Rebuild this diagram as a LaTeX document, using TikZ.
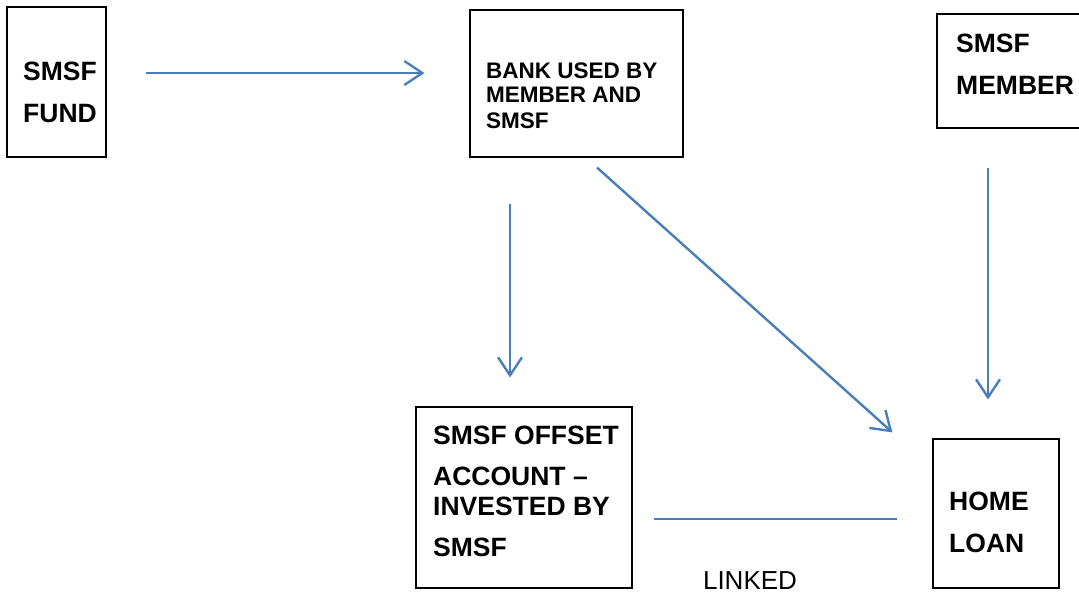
\documentclass[tikz,border=0pt]{standalone}
\usepackage{fontspec}
\setmainfont{Liberation Sans}
\usetikzlibrary{arrows.meta,calc}
\definecolor{wordblue}{RGB}{74,126,187}

\begin{document}
\begin{tikzpicture}[x=1pt,y=-1pt,
    box/.style={draw=black, line width=1.1pt, inner sep=0pt},
    txt/.style={anchor=base west, align=left, inner sep=0pt, font=\fontsize{26.5}{30}\selectfont\bfseries},
    flow/.style={draw=wordblue, line width=2.4pt, -{Straight Barb[length=18pt,width=24pt,line width=2.4pt]}}]
\useasboundingbox (0,0) rectangle (1079,594);
\node[box, minimum width=99, minimum height=150] (fund) at (56.5,82) {};
\node[box, minimum width=213, minimum height=147] (bank) at (576.5,83.5) {};
\node[box, minimum width=160, minimum height=114] (member) at (1017,71) {};
\node[box, minimum width=216, minimum height=181] (offset) at (524,497.5) {};
\node[box, minimum width=126, minimum height=149] (loan) at (996,513.5) {};
\node[txt] (fundtxt) at (23,122) {SMSF\\[12pt]FUND};
\node[txt, font=\fontsize{22.5}{25}\selectfont\bfseries] (banktxt) at (486,128) {BANK USED BY\\MEMBER AND\\SMSF};
\node[txt] (membertxt) at (956,95) {SMSF\\[12pt]MEMBER};
\node[txt] (offsettxt) at (433,556) {SMSF OFFSET\\[11pt]ACCOUNT --\\INVESTED BY\\[11pt]SMSF};
\node[txt] (loantxt) at (949,552) {HOME\\[12pt]LOAN};
\node[anchor=base, inner sep=0pt, font=\fontsize{26}{30}\selectfont] (linked) at (750,589) {LINKED};
\draw[flow] ($(fund.east)+(39,-9)$) -- ($(bank.west)+(-45,-10.5)$);
\draw[flow] ($(bank.south)+(-66.5,46)$) -- ($(offset.north)+(-14,-29)$);
\draw[flow] ($(bank.south)+(20.5,10)$) -- ($(loan.north west)+(-40,-6)$);
\draw[flow] ($(member.south)+(-29,39)$) -- ($(loan.north)+(-8,-39)$);
\draw[wordblue, line width=2.4pt] ($(offset.east)+(21,21.5)$) -- ($(loan.west)+(-35,5.5)$);
\end{tikzpicture}
\end{document}
